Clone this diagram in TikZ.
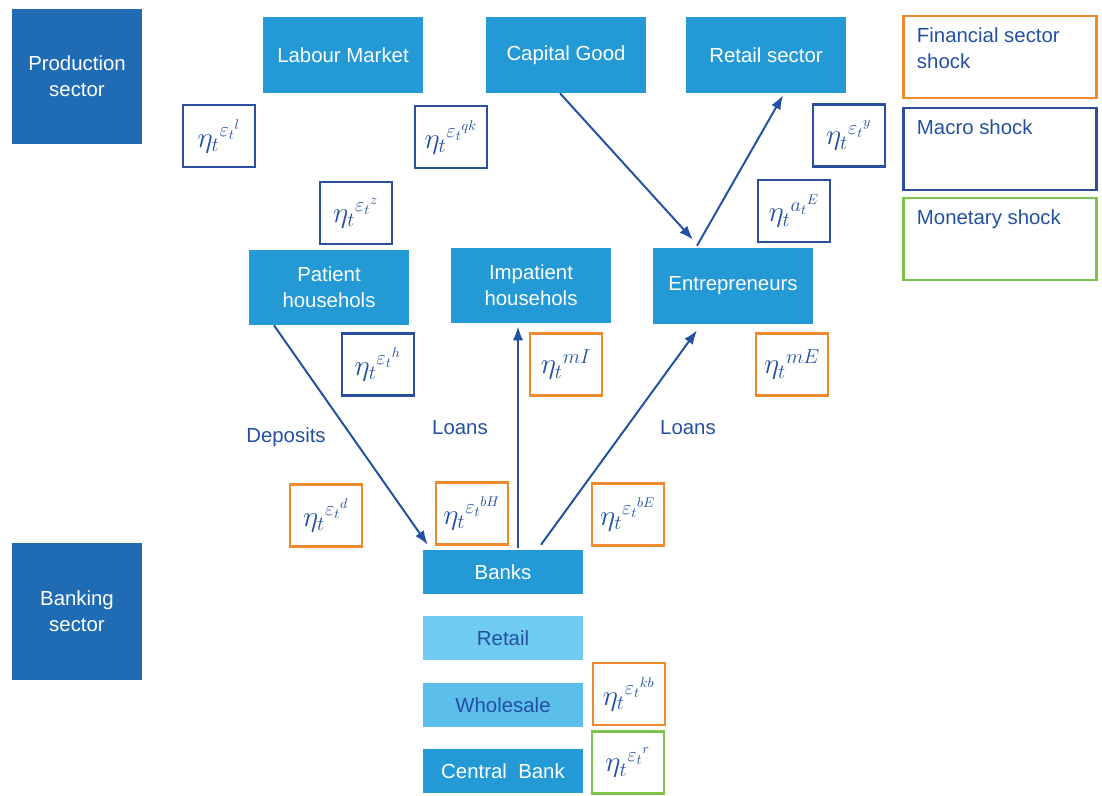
\documentclass[tikz,border=0pt]{standalone}
\usepackage{fontspec}
\setmainfont{Liberation Sans}
\usetikzlibrary{arrows.meta,calc}
\definecolor{sectorBlue}{HTML}{1F6CB4}
\definecolor{agentBlue}{HTML}{2399D6}
\definecolor{paleBlue}{HTML}{70CBF2}
\definecolor{paleBlueB}{HTML}{5CBFEA}
\definecolor{inkBlue}{HTML}{2350A0}
\definecolor{macroEdge}{HTML}{2B4E9E}
\definecolor{finEdge}{HTML}{F08A2E}
\definecolor{monEdge}{HTML}{7CC24B}

\begin{document}
\begin{tikzpicture}[
  x=0.025cm, y=-0.025cm,
  txt/.style={font=\fontsize{14.5}{18.5}\selectfont},
  sector/.style={txt,fill=sectorBlue,text=white,minimum width=3.25cm,minimum height=3.35cm,align=center},
  agent/.style={txt,fill=agentBlue,text=white,minimum width=4cm,minimum height=1.9cm,align=center},
  bankbox/.style={agent,minimum height=1.1cm},
  subbank/.style={bankbox,text=inkBlue},
  shock/.style={draw,line width=2pt,fill=white,minimum width=1.8cm,minimum height=1.55cm,inner sep=1pt,text=inkBlue,font=\fontsize{20}{22}\selectfont},
  macro/.style={shock,draw=macroEdge},
  fin/.style={shock,draw=finEdge},
  mon/.style={shock,draw=monEdge},
  legend/.style={txt,draw,line width=2pt,text=inkBlue,inner xsep=0.33cm,inner ysep=0.3cm},
  flowlabel/.style={txt,text=inkBlue},
  arrow/.style={-{Latex[length=3.5mm,width=2.6mm]},line width=1.4pt,inkBlue}]
  \useasboundingbox (0,0) rectangle (1102,795);
  % sectors
  \node[sector] (prod) at (77,76.5) {Production\\sector};
  \node[sector,minimum height=3.42cm] (banksec) at (77,611.5) {Banking\\sector};
  % production side
  \node[agent] (labour) at (343,55) {Labour Market};
  \node[agent] (capital) at (566,55) {Capital Good};
  \node[agent] (retailsec) at (766,55) {Retail sector};
  \node[agent,minimum height=1.88cm] (patient) at (329,287.5) {Patient\\househols};
  \node[agent,minimum height=1.88cm] (impatient) at (531,285.5) {Impatient\\househols};
  \node[agent] (entre) at (733,286) {Entrepreneurs};
  % banking side
  \node[bankbox] (banks) at (503,572) {Banks};
  \node[subbank,fill=paleBlue] (retail) at (503,638) {Retail};
  \node[subbank,fill=paleBlueB] (wholesale) at (503,705) {Wholesale};
  \node[bankbox] (central) at (503,771) {Central\ \ Bank};
  % shocks
  \node[macro] (shL) at (219,136) {$\eta_t{}^{\varepsilon_t{}^{l}}$};
  \node[macro] (shQK) at (451,137) {$\eta_t{}^{\varepsilon_t{}^{qk}}$};
  \node[macro] (shZ) at (356,213) {$\eta_t{}^{\varepsilon_t{}^{z}}$};
  \node[macro] (shY) at (849,135.5) {$\eta_t{}^{\varepsilon_t{}^{y}}$};
  \node[macro] (shAE) at (794,211) {$\eta_t{}^{a_t{}^{E}}$};
  \node[macro] (shH) at (378,364.5) {$\eta_t{}^{\varepsilon_t{}^{h}}$};
  \node[fin] (shMI) at (566,364.5) {$\eta_t{}^{mI}$};
  \node[fin] (shME) at (792,364.5) {$\eta_t{}^{mE}$};
  \node[fin] (shD) at (326,515.5) {$\eta_t{}^{\varepsilon_t{}^{d}}$};
  \node[fin] (shBH) at (472,513.5) {$\eta_t{}^{\varepsilon_t{}^{bH}}$};
  \node[fin] (shBE) at (628,514.5) {$\eta_t{}^{\varepsilon_t{}^{bE}}$};
  \node[fin] (shKB) at (629,694) {$\eta_t{}^{\varepsilon_t{}^{kb}}$};
  \node[mon] (shR) at (628,762.5) {$\eta_t{}^{\varepsilon_t{}^{r}}$};
  % legend
  \node[legend,draw=finEdge] (legFin) at (1000,57) {\parbox[t][1.45cm][t]{4.15cm}{Financial sector\\shock}};
  \node[legend,draw=macroEdge] (legMacro) at (1000,149) {\parbox[t][1.45cm][t]{4.15cm}{Macro shock}};
  \node[legend,draw=monEdge] (legMon) at (1000,239) {\parbox[t][1.45cm][t]{4.15cm}{Monetary shock}};
  % flows
  \node[flowlabel] (lblDep) at (286,437) {Deposits};
  \node[flowlabel] (lblLoanI) at (460,428) {Loans};
  \node[flowlabel] (lblLoanE) at (688,428) {Loans};
  \draw[arrow] ($(capital.south)+(-6,0)$) -- ($(entre.north)+(-40,-8)$);
  \draw[arrow] ($(entre.north)+(-36,-2)$) -- ($(retailsec.south)+(17,2)$);
  \draw[arrow] ($(patient.south)+(-55,0)$) -- ($(banks.north west)+(5,-5)$);
  \draw[arrow] ($(banks.north)+(15,-2)$) -- ($(impatient.south)+(-13,3)$);
  \draw[arrow] ($(banks.north)+(38,-5)$) -- ($(entre.south)+(-36,6)$);
\end{tikzpicture}
\end{document}
